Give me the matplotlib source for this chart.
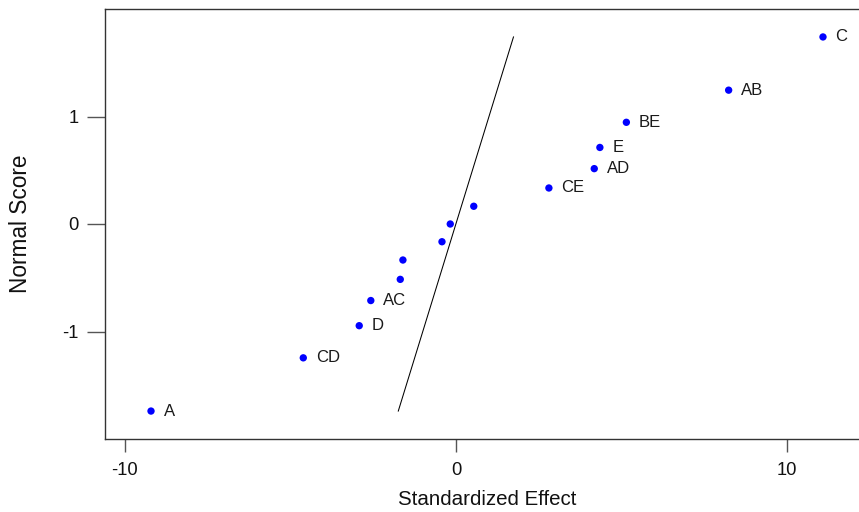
import matplotlib
matplotlib.use("Agg")
import matplotlib.pyplot as plt

plt.rcParams['font.family'] = ['Liberation Sans', 'DejaVu Sans']

# Standardized effects (x) and their normal scores (y)
effects = [-9.21, -4.61, -2.92, -2.57, -1.68, -1.60, -0.42, -0.17,
           0.54, 2.81, 4.18, 4.35, 5.15, 8.24, 11.09]
scores = [-1.74, -1.245, -0.946, -0.712, -0.515, -0.335, -0.165, 0.0,
          0.165, 0.335, 0.515, 0.712, 0.946, 1.245, 1.74]
terms = ['A', 'CD', 'D', 'AC', '', '', '', '',
         '', 'CE', 'AD', 'E', 'BE', 'AB', 'C']

# Reference line endpoints
line_x = [-1.74, 1.74]
line_y = [-1.74, 1.74]

x_ticks = [-10, 0, 10]
y_ticks = [-1, 0, 1]

fig = plt.figure(figsize=(8.59, 5.12), dpi=100)
ax = fig.add_axes([105 / 859, 1 - 439 / 512, (869 - 105) / 859, (439 - 9) / 512])

ax.plot(line_x, line_y, color='black', lw=0.75, zorder=2)
ax.scatter(effects, scores, s=28, color='#0000ff', edgecolors='none', zorder=3)

for x, y, t in zip(effects, scores, terms):
    if t:
        ax.annotate(t, (x, y), xytext=(9, 0), textcoords='offset points',
                    va='center', ha='left', fontsize=12, color='#1a1a1a')

ax.set_xlim(-10.6, 12.48)
ax.set_ylim(-2.0, 2.0)
ax.set_xticks(x_ticks)
ax.set_yticks(y_ticks)
ax.set_xticklabels([str(v) for v in x_ticks])
ax.set_yticklabels([str(v) for v in y_ticks])

for side in ['left', 'bottom', 'top']:
    ax.spines[side].set_color('#333333')
    ax.spines[side].set_linewidth(1.0)
ax.spines['right'].set_visible(False)

ax.tick_params(axis='x', length=9.4, width=1.0, color='#555555', pad=7,
               labelsize=13.2, labelcolor='#111111')
ax.tick_params(axis='y', length=13, width=1.0, color='#555555', pad=6,
               labelsize=13.2, labelcolor='#111111')

ax.set_xlabel('Standardized Effect', fontsize=14.8, color='#111111', labelpad=8)
ax.set_ylabel('Normal Score', fontsize=16.3, color='#111111', labelpad=22)

fig.savefig('out.png', dpi=100)
